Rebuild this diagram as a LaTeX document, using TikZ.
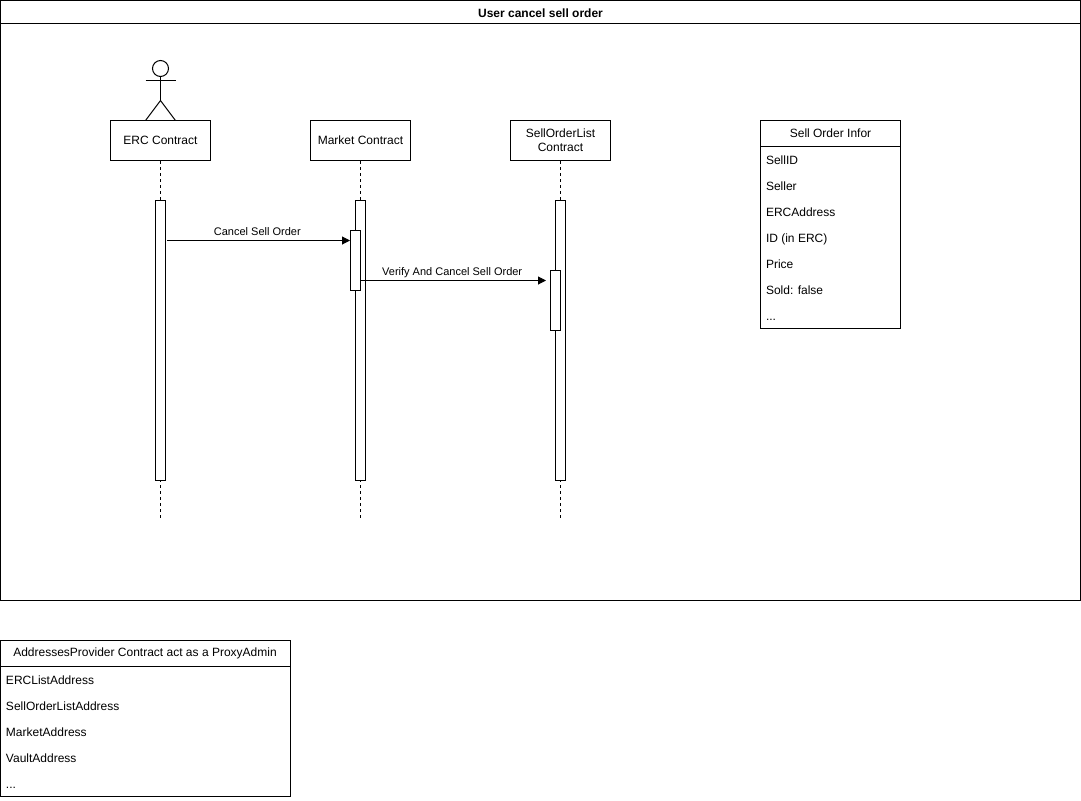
\documentclass[tikz,border=0pt]{standalone}
\usepackage{fontspec}
\setmainfont{Liberation Sans}
\usetikzlibrary{positioning,arrows.meta}

\begin{document}
\begin{tikzpicture}[
  x=0.75pt, y=-0.75pt,
  line width=0.75pt,
  every node/.style={font=\fontsize{9}{10.5}\selectfont},
  frame/.style={draw, minimum width=810pt, minimum height=450pt, inner sep=0pt},
  titlebar/.style={font=\fontsize{9}{10.5}\selectfont\bfseries},
  actor/.style={draw, fill=white, minimum width=75pt, minimum height=30pt,
    align=center, inner sep=0pt},
  bar/.style={draw, fill=white, minimum width=7.5pt, inner sep=0pt},
  life/.style={dashed, dash pattern=on 2.25pt off 2.25pt},
  msg/.style={-{Triangle[length=6pt,width=6pt]}},
  lbl/.style={font=\fontsize{8.25}{10}\selectfont, midway, inner sep=0pt, text depth=0pt},
  tablebox/.style={draw, inner sep=0pt},
  rowtext/.style={anchor=base west, inner sep=0pt},
]
  \useasboundingbox (0,0) rectangle (1081,800);

  % Outer frame with its title
  \node[frame] (frame) at (540.5,300.5) {};
  \coordinate (titleleft) at (0.5,23.5);
  \coordinate (titleright) at (1080.5,23.5);
  \draw (titleleft) -- (titleright);
  \node[titlebar] (title) at (540.5,13) {User cancel sell order};

  % Three contracts with vertical lifelines
  \node[actor] (erc) at (160.5,140.5) {ERC Contract};
  \node[actor] (market) at (360.5,140.5) {Market Contract};
  \node[actor] (sell) at (560.5,140.5) {SellOrderList\\Contract};

  \coordinate (ercend) at (160.5,518);
  \coordinate (marketend) at (360.5,518);
  \coordinate (sellend) at (560.5,518);
  \draw[life] (erc.south) -- (ercend);
  \draw[life] (market.south) -- (marketend);
  \draw[life] (sell.south) -- (sellend);

  % Stick figure on top of the first contract
  \node[draw, circle, minimum size=12pt, inner sep=0pt] (head) at (160.5,68.5) {};
  \draw (head.south) -- (160.5,100.5);
  \draw (145.5,80.5) -- (175.5,80.5);
  \draw (145.5,120.5) -- (160.5,100.5) -- (175.5,120.5);

  % Activation bars
  \node[bar, minimum height=210pt] (ercbar) at (160.5,340.5) {};
  \node[bar, minimum height=210pt] (marketbar) at (360.5,340.5) {};
  \node[bar, minimum height=210pt] (sellbar) at (560.5,340.5) {};
  \node[bar, minimum height=45pt] (marketcall) at (355.5,260.5) {};
  \node[bar, minimum height=45pt] (sellcall) at (555.5,300.5) {};

  % Messages
  \draw[msg, shorten <=1pt] (ercbar.east |- 0,240.5) -- (marketcall.west |- 0,240.5)
    node[lbl, above=3.5pt, xshift=-0.5pt]{Cancel Sell Order};
  \draw[msg, shorten >=3pt] (marketcall.east |- 0,280.5) -- (sellcall.west |- 0,280.5)
    node[lbl, above=3.5pt, xshift=-2.5pt]{Verify And Cancel Sell Order};

  % Sell order table
  \node[tablebox, minimum width=105pt, minimum height=156pt] (infor) at (830.5,224.5) {};
  \node (inforhead) at (830.5,133.5) {Sell Order Infor};
  \coordinate (inforleft) at (760.5,146.5);
  \coordinate (inforright) at (900.5,146.5);
  \draw (inforleft) -- (inforright);
  \foreach \y/\name/\txt in {164/a/SellID,190/b/Seller,216/c/ERCAddress,242/d/ID (in ERC),
      268/e/Price,294/f/Sold: false}
    \node[rowtext] (infor\name) at (765.5,\y) {\txt};
  \node[rowtext] (inforg) at (765.5,320) {...};

  % Addresses table
  \node[tablebox, minimum width=217.5pt, minimum height=117pt] (addr) at (145.5,718.5) {};
  \node (addrhead) at (145,653.5) {AddressesProvider Contract act as a ProxyAdmin};
  \coordinate (addrleft) at (0.5,666.5);
  \coordinate (addrright) at (290.5,666.5);
  \draw (addrleft) -- (addrright);
  \foreach \y/\name/\txt in {684/a/ERCListAddress,710/b/SellOrderListAddress,
      736/c/MarketAddress,762/d/VaultAddress}
    \node[rowtext] (addr\name) at (5.5,\y) {\txt};
  \node[rowtext] (addre) at (5.5,788) {...};
\end{tikzpicture}
\end{document}
